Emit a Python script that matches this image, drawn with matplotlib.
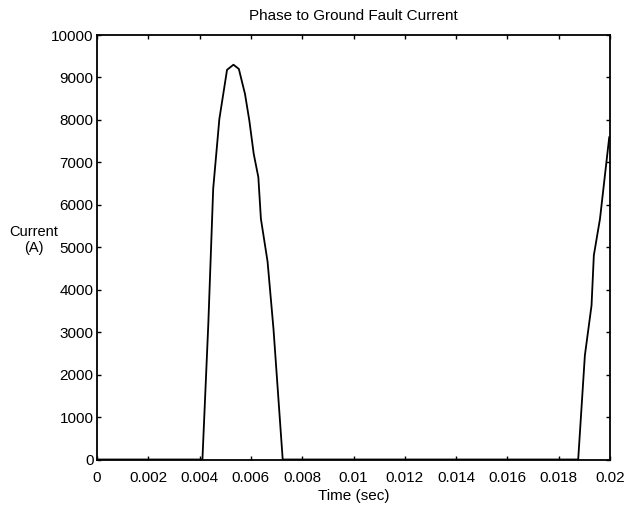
import matplotlib
matplotlib.use('Agg')
import matplotlib.pyplot as plt
from matplotlib.ticker import FuncFormatter

plt.rcParams['font.family'] = ['Liberation Sans', 'DejaVu Sans']

# fault current samples
time = [0.0, 0.00411, 0.00434, 0.00453, 0.00477, 0.00507, 0.00532, 0.00553,
        0.00577, 0.00594, 0.00611, 0.00629, 0.00639, 0.00665, 0.00688,
        0.00724, 0.01876, 0.01902, 0.01928, 0.01937, 0.01961, 0.01997]
current = [0, 0, 3200, 6380, 8020, 9180, 9300, 9200,
           8610, 7980, 7200, 6650, 5670, 4660, 3080,
           0, 0, 2450, 3630, 4810, 5670, 7590]

xticks = [0, 0.002, 0.004, 0.006, 0.008, 0.01, 0.012, 0.014, 0.016, 0.018, 0.02]
yticks = list(range(0, 10001, 1000))

fig = plt.figure(figsize=(6.32, 5.05), dpi=100)
ax = fig.add_axes([97 / 632, 1 - 459.5 / 505, 513 / 632, 424.5 / 505])
ax.plot(time, current, color='black', lw=1.3)

ax.set_xlim(0, 0.02)
ax.set_ylim(0, 10000)
ax.set_xticks(xticks)
ax.set_yticks(yticks)
ax.xaxis.set_major_formatter(FuncFormatter(lambda v, p: '%g' % v))
ax.tick_params(direction='in', length=3, width=1, top=True, right=True,
               labelsize=11)
ax.tick_params(axis='y', pad=2.5)
ax.tick_params(axis='x', pad=8)
for s in ax.spines.values():
    s.set_linewidth(1.3)

ax.set_title('Phase to Ground Fault Current', fontsize=11, pad=11)
ax.set_xlabel('Time (sec)', fontsize=11, labelpad=3)
fig.text(34 / 632, 1 - 240 / 505, 'Current\n(A)', fontsize=10.5,
         ha='center', va='center', multialignment='center')

fig.savefig('out.png')
